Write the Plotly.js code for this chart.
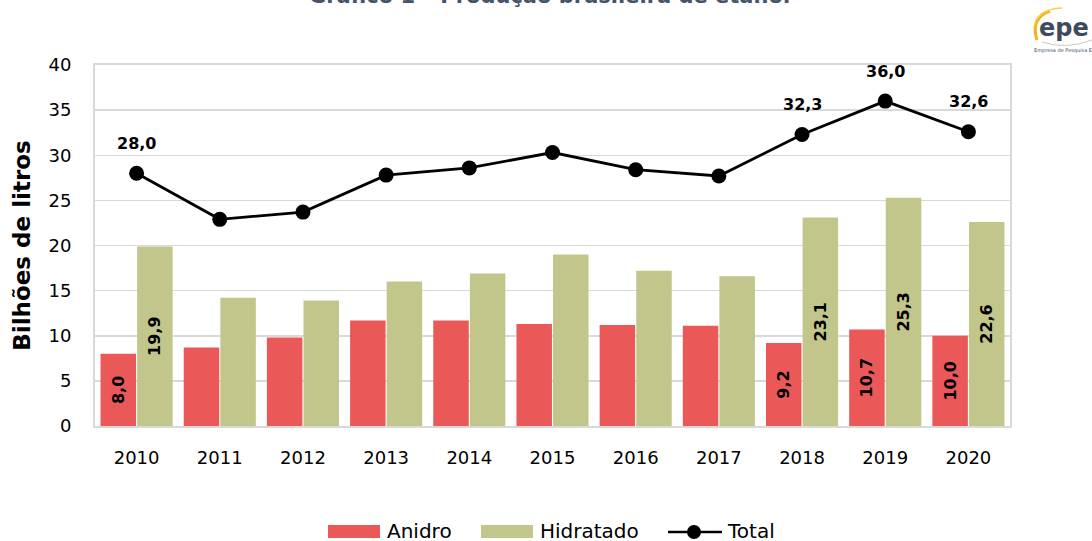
<!DOCTYPE html>
<html>
<head>
<meta charset="utf-8">
<script src="https://cdn.plot.ly/plotly-3.0.1.min.js"></script>
<style>html,body{margin:0;padding:0;background:#fff;}#chart{width:1092px;height:541px;}</style>
</head>
<body>
<div id="chart"></div>
<script>
const years = ['2010','2011','2012','2013','2014','2015','2016','2017','2018','2019','2020'];
const anidro = [8.0, 8.7, 9.8, 11.7, 11.7, 11.3, 11.2, 11.1, 9.2, 10.7, 10.0];
const hidratado = [19.9, 14.2, 13.9, 16.0, 16.9, 19.0, 17.2, 16.6, 23.1, 25.3, 22.6];
const total = [28.0, 22.9, 23.7, 27.8, 28.6, 30.3, 28.4, 27.7, 32.3, 36.0, 32.6];
const labeledYears = ['2010','2018','2019','2020'];
const yTicks = [0, 5, 10, 15, 20, 25, 30, 35, 40];

const fmt = v => v.toFixed(1).replace('.', ',');
const lbl = arr => arr.map((v, i) => labeledYears.includes(years[i]) ? fmt(v) : '');

const W = 1092, H = 541, L = 95, R = 1010, T = 65, B = 426;
const px = p => (p - L) / (R - L);
const py = p => (B - p) / (B - T);

const FONT = 'DejaVu Sans, Verdana, sans-serif';
const RED = '#ea5858', GREEN = '#c2c68b';

const traces = [
  {type: 'bar', name: 'Anidro', x: years, y: anidro, marker: {color: RED},
   text: lbl(anidro), textposition: 'inside', insidetextanchor: 'middle', textangle: -90,
   textfont: {family: FONT, size: 16, color: '#000', weight: 'bold'}, hoverinfo: 'skip'},
  {type: 'bar', name: 'Hidratado', x: years, y: hidratado, marker: {color: GREEN},
   text: lbl(hidratado), textposition: 'inside', insidetextanchor: 'middle', textangle: -90,
   textfont: {family: FONT, size: 16, color: '#000', weight: 'bold'}, hoverinfo: 'skip'},
  {type: 'scatter', mode: 'lines+markers', name: 'Total', x: years, y: total,
   line: {color: '#000', width: 2.8}, marker: {color: '#000', size: 15}, hoverinfo: 'skip'}
];

const annotations = [];
total.forEach((v, i) => {
  if (labeledYears.includes(years[i])) {
    annotations.push({x: i, y: v, xref: 'x', yref: 'y', text: fmt(v), showarrow: false,
      yshift: 30, font: {family: FONT, size: 16, color: '#000', weight: 'bold'}});
  }
});
// cut-off title
annotations.push({xref: 'paper', yref: 'paper', x: px(549), y: py(10), yanchor: 'bottom', xanchor: 'center',
  text: 'Gráfico 1 – Produção brasileira de etanol', showarrow: false,
  font: {family: FONT, size: 21, color: '#44546a', weight: 'bold'}});
// logo
annotations.push({xref: 'paper', yref: 'paper', x: px(1064), y: py(28), xanchor: 'center', yanchor: 'middle',
  text: 'epe', showarrow: false, font: {family: FONT, size: 24, color: '#3e4b5e', weight: 'bold'}});
annotations.push({xref: 'paper', yref: 'paper', x: px(1032), y: py(51), xanchor: 'left', yanchor: 'middle',
  text: 'Empresa de Pesquisa Energética', showarrow: false, font: {family: FONT, size: 5, color: '#3e4b5e'}});
// legend texts
const legTexts = [['Anidro', 385], ['Hidratado', 538], ['Total', 725]];
legTexts.forEach(([t, x]) => annotations.push({xref: 'paper', yref: 'paper', x: px(x), y: py(531),
  xanchor: 'left', yanchor: 'middle', text: t, showarrow: false, font: {family: FONT, size: 20, color: '#000'}}));

const shapes = [
  {type: 'rect', xref: 'paper', yref: 'paper', x0: px(328), x1: px(380), y0: py(525), y1: py(538), fillcolor: RED, line: {width: 0}},
  {type: 'rect', xref: 'paper', yref: 'paper', x0: px(481), x1: px(533), y0: py(525), y1: py(538), fillcolor: GREEN, line: {width: 0}},
  {type: 'line', xref: 'paper', yref: 'paper', x0: px(668), x1: px(722), y0: py(532), y1: py(532), line: {color: '#000', width: 2.5}},
  {type: 'circle', xref: 'paper', yref: 'paper', x0: px(687), x1: px(701), y0: py(525), y1: py(539), fillcolor: '#000', line: {width: 0}},
  // logo arcs
  {type: 'path', xref: 'paper', yref: 'paper',
   path: `M ${px(1050)} ${py(11)} Q ${px(1030)} ${py(18)} ${px(1037)} ${py(40)}`,
   line: {color: '#f2b21b', width: 3}},
  {type: 'path', xref: 'paper', yref: 'paper',
   path: `M ${px(1062)} ${py(8)} Q ${px(1036)} ${py(9)} ${px(1034)} ${py(28)}`,
   line: {color: '#f7d046', width: 1.5}},
  {type: 'path', xref: 'paper', yref: 'paper',
   path: `M ${px(1042)} ${py(42)} Q ${px(1066)} ${py(50)} ${px(1092)} ${py(40)}`,
   line: {color: '#c9c9c9', width: 1}}
];

const layout = {
  width: W, height: H,
  margin: {l: L, r: W - R, t: T, b: H - B, pad: 0},
  paper_bgcolor: '#fff', plot_bgcolor: '#fff',
  barmode: 'group', bargap: 0.12, bargroupgap: 0.03,
  showlegend: false,
  separators: ',.',
  font: {family: FONT, color: '#000'},
  xaxis: {type: 'category', range: [-0.5, years.length - 0.5], autorange: false, showgrid: false, showline: true, linecolor: '#d9d9d9', linewidth: 2, mirror: true,
    ticks: '', tickfont: {family: FONT, size: 18, color: '#000'}, ticklabelstandoff: 14, fixedrange: true},
  yaxis: {range: [0, 40], autorange: false, tickvals: yTicks, ticktext: yTicks.map(String), showgrid: true, gridcolor: '#d9d9d9', gridwidth: 1.5,
    showline: true, linecolor: '#d9d9d9', linewidth: 2, mirror: true, zeroline: false, ticks: '',
    tickfont: {family: FONT, size: 18, color: '#000'}, ticklabelstandoff: 18,
    title: {text: 'Bilhões de litros', standoff: 11, font: {family: FONT, size: 23, color: '#000', weight: 'bold'}},
    fixedrange: true},
  annotations: annotations,
  shapes: shapes
};

Plotly.newPlot('chart', traces, layout, {displayModeBar: false, staticPlot: true});
</script>
</body>
</html>
